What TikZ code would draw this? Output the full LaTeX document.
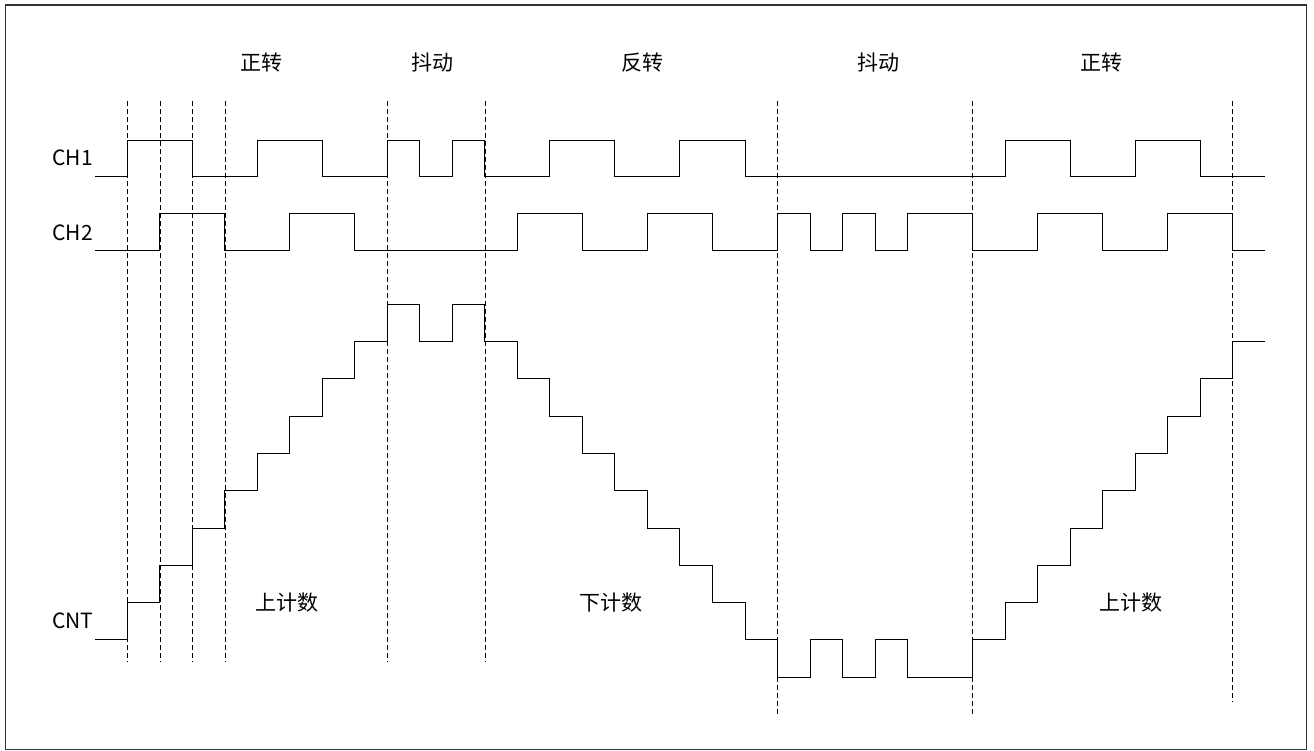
\documentclass[tikz,border=0pt]{standalone}
\usepackage{fontspec}
\setmainfont{Noto Sans CJK SC}
\usetikzlibrary{positioning}
\tikzset{wave/.style={line width=1pt,draw=black,line join=miter},guide/.style={line width=0.8pt,dash pattern=on 5pt off 3pt,draw=black},lbl/.style={font=\fontsize{21}{25}\selectfont,inner sep=0pt}}

\begin{document}
\begin{tikzpicture}[x=32.5pt,y=1pt]
\useasboundingbox (-3.923,0) rectangle (36.508,-751);
\draw[line width=1.5pt,draw=black!80] (-3.748,-5) rectangle (36.283,-749.5);
% guide lines
\foreach \t in {0,1,2,3,8,11} \draw[guide] (\t,-101) -- (\t,-662);
\foreach \t in {20,26} \draw[guide] (\t,-101) -- (\t,-717);
\draw[guide] (34,-101) -- (34,-702);
% CH1
\begin{scope}[yshift=-177pt,y=36pt]
\draw[wave] (-1,0) -| (0,1) -| (2,0) -| (4,1) -| (6,0) -| (8,1) -| (9,0) -| (10,1) -| (11,0) -| (13,1) -| (15,0) -| (17,1) -| (19,0) -| (27,1) -| (29,0) -| (31,1) -| (33,0) -- (35,0);
\end{scope}
% CH2
\begin{scope}[yshift=-251pt,y=37pt]
\draw[wave] (-1,0) -| (1,1) -| (3,0) -| (5,1) -| (7,0) -| (12,1) -| (14,0) -| (16,1) -| (18,0) -| (20,1) -| (21,0) -| (22,1) -| (23,0) -| (24,1) -| (26,0) -| (28,1) -| (30,0) -| (32,1) -| (34,0) -- (35,0);
\end{scope}
% CNT
\begin{scope}[yshift=-640pt,y=37.33pt]
\draw[wave] (-1,0) -| (0,1) -| (1,2) -| (2,3) -| (3,4) -| (4,5) -| (5,6) -| (6,7) -| (7,8) -| (8,9) -| (9,8) -| (10,9) -| (11,8) -| (12,7) -| (13,6) -| (14,5) -| (15,4) -| (16,3) -| (17,2) -| (18,1) -| (19,0) -| (20,-1) -| (21,0) -| (22,-1) -| (23,0) -| (24,-1) -| (26,0) -| (27,1) -| (28,2) -| (29,3) -| (30,4) -| (31,5) -| (32,6) -| (33,7) -| (34,8) -- (35,8);
\end{scope}
% labels
\node[lbl] (ch1) at (-1.686,-158) {CH1};
\node[lbl] (ch2) at (-1.686,-232.5) {CH2};
\node[lbl] (cnt) at (-1.686,-621) {CNT};
\node[lbl] (fwda) at (4.12,-63) {正转};
\node[lbl] (jita) at (9.37,-63) {抖动};
\node[lbl] (rev) at (15.86,-63) {反转};
\node[lbl] (jitb) at (23.12,-63) {抖动};
\node[lbl] (fwdb) at (29.98,-63) {正转};
\node[lbl] (upa) at (4.90,-603) {上计数};
\node[lbl] (down) at (14.88,-603) {下计数};
\node[lbl] (upb) at (30.88,-603) {上计数};
\end{tikzpicture}
\end{document}
